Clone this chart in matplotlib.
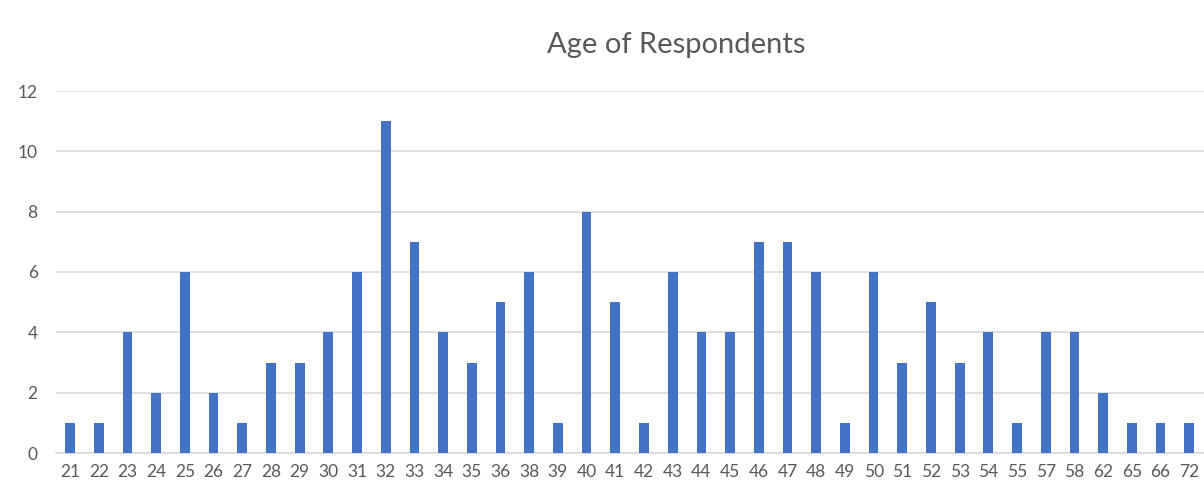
import matplotlib
matplotlib.use("Agg")
import matplotlib.pyplot as plt
import numpy as np

ages = ["21", "22", "23", "24", "25", "26", "27", "28", "29", "30",
        "31", "32", "33", "34", "35", "36", "38", "39", "40", "41",
        "42", "43", "44", "45", "46", "47", "48", "49", "50", "51",
        "52", "53", "54", "55", "57", "58", "62", "65", "66", "72"]
counts = [1, 1, 4, 2, 6, 2, 1, 3, 3, 4,
          6, 11, 7, 4, 3, 5, 6, 1, 8, 5,
          1, 6, 4, 4, 7, 7, 6, 1, 6, 3,
          5, 3, 4, 1, 4, 4, 2, 1, 1, 1]
y_ticks = [0, 2, 4, 6, 8, 10, 12]

plt.rcParams["font.family"] = ["Lato", "DejaVu Sans"]
text_color = "#595959"

fig = plt.figure(figsize=(12.04, 4.9), dpi=100)
ax = fig.add_axes([55.7 / 1204, 37 / 490, (1203.6 - 55.7) / 1204, 362 / 490])

x = np.arange(len(ages))
ax.bar(x, counts, width=0.34, color="#4472C4", zorder=3)

ax.set_xlim(-0.5, len(ages) - 0.5)
ax.set_ylim(0, 12)
ax.set_yticks(y_ticks)
ax.set_xticks(x)
ax.set_xticklabels(ages)
ax.yaxis.grid(True, color="#d9d9d9", linewidth=1.2, zorder=0)
ax.set_axisbelow(True)
for side in ["top", "right", "left"]:
    ax.spines[side].set_visible(False)
ax.spines["bottom"].set_color("#d9d9d9")
ax.spines["bottom"].set_linewidth(1.2)
ax.tick_params(axis="both", length=0, colors=text_color, labelsize=12.5)
ax.tick_params(axis="x", pad=8)
ax.tick_params(axis="y", pad=13)

fig.text(676 / 1204, 1 - 45 / 490, "Age of Respondents", ha="center", va="center",
         fontsize=21, color=text_color)

fig.savefig("out.png", dpi=100, facecolor="white")
